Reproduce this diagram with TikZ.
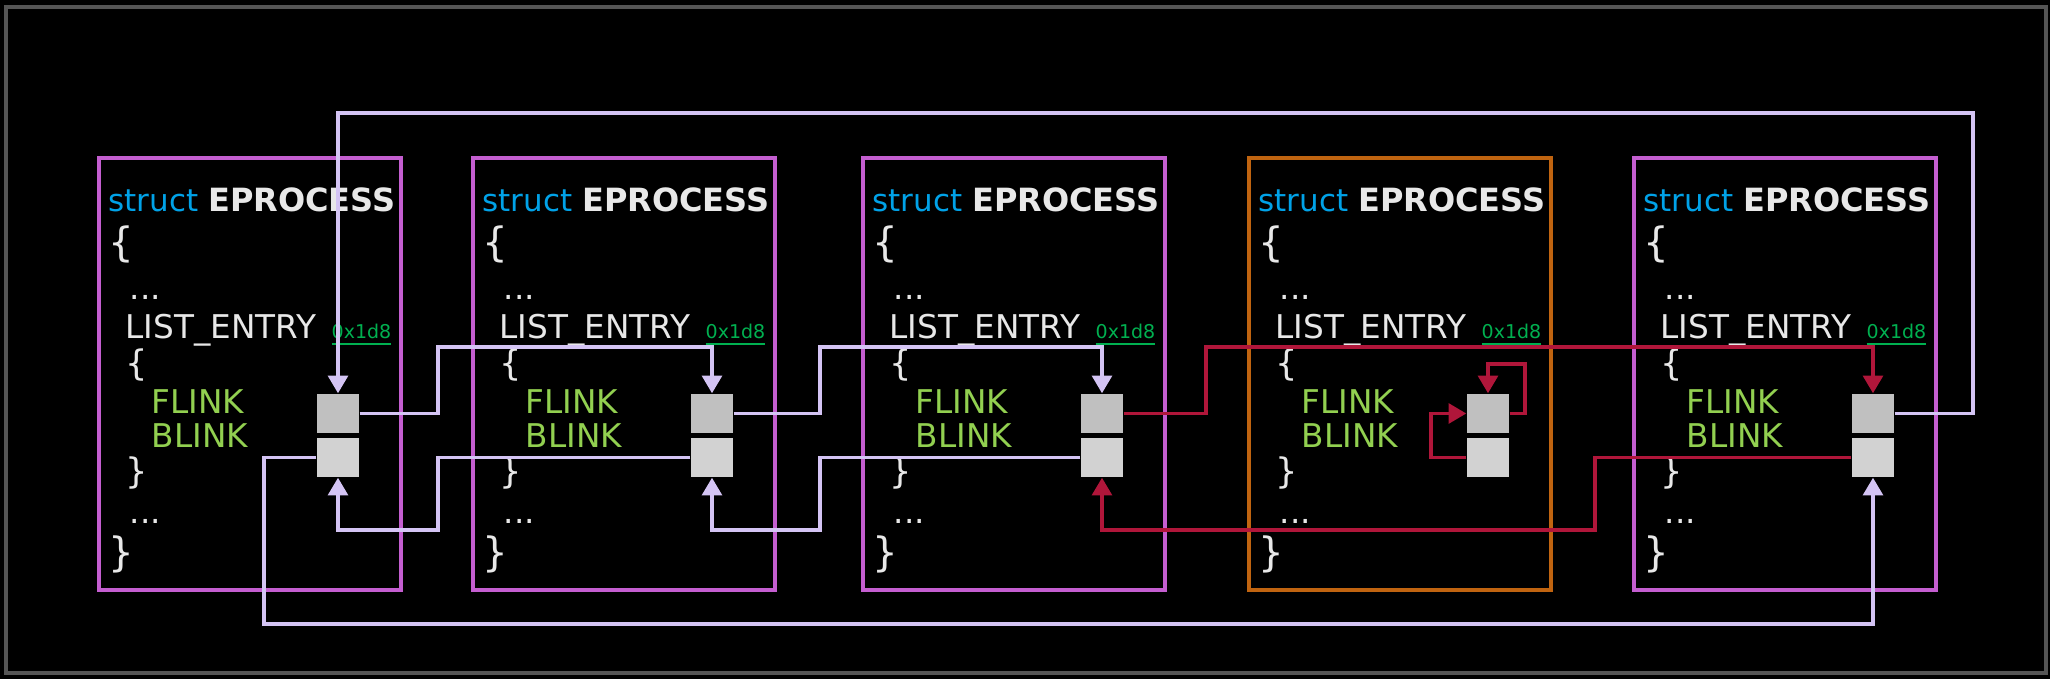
\documentclass[tikz,border=0pt]{standalone}
\usepackage{fontspec}
\setmainfont{DejaVu Sans}
\usepackage{tikz}
\usetikzlibrary{arrows.meta,calc}
\usepackage{xcolor}
\definecolor{frameg}{RGB}{85,85,85}
\definecolor{procpink}{RGB}{196,94,208}
\definecolor{procorange}{RGB}{192,100,16}
\definecolor{kwblue}{RGB}{0,162,232}
\definecolor{codewhite}{RGB}{232,232,232}
\definecolor{offgreen}{RGB}{0,176,80}
\definecolor{fieldgreen}{RGB}{146,208,80}
\definecolor{celltop}{RGB}{192,192,192}
\definecolor{cellbot}{RGB}{210,210,210}
\definecolor{lav}{RGB}{212,196,244}
\definecolor{unlinkred}{RGB}{176,22,58}
\tikzset{
  procbox/.style={draw=#1,line width=1pt,minimum width=3.02cm,minimum height=4.32cm,inner sep=0pt},
  cell/.style={fill=#1,minimum width=0.42cm,minimum height=0.39cm,inner sep=0pt},
  code/.style={anchor=base west,inner sep=0pt,font=\fontsize{9.3}{11}\selectfont,text=codewhite},
}

\begin{document}
\begin{tikzpicture}[x=0.01cm,y=-0.01cm,
    link/.style={-{Triangle[length=5pt,width=5.6pt]},line width=1pt,draw=#1},
  ]
    %────────── CANVAS ─────────────
    \fill[black] (0,0) rectangle (2050,679);
    \useasboundingbox (0,0) rectangle (2050,679);
    \draw[frameg,line width=1pt] (6,7) rectangle (2046,673);

    %────────── PROCESSES ──────────
    \foreach \i/\xx/\col in {1/99/procpink,2/473/procpink,3/863/procpink,4/1249/procorange,5/1634/procpink}{
      \node[procbox=\col] (p\i) at (\xx+151,374) {};
      \node[code,font=\fontsize{8.8}{10}\selectfont] (hd\i) at (\xx+9,212) {\textcolor{kwblue}{struct} {\fontsize{9.1}{11}\selectfont\bfseries EPROCESS}};
      \node[code,font=\fontsize{11.5}{13}\selectfont] (ob\i) at (\xx+9,257) {\{};
      \node[code] (da\i) at (\xx+30,300) {...};
      \node[code] (le\i) at (\xx+26,339) {LIST\_ENTRY};
      \node[code,font=\fontsize{5.4}{6}\selectfont,text=offgreen] (off\i) at (\xx+232,339) {\underline{0x1d8}};
      \node[code,font=\fontsize{10}{12}\selectfont] (ib\i) at (\xx+26,376) {\{};
      \node[code,text=fieldgreen] (fl\i) at (\xx+52,413) {FLINK};
      \node[code,text=fieldgreen] (bl\i) at (\xx+52,448) {BLINK};
      \node[code,font=\fontsize{10}{12}\selectfont] (ie\i) at (\xx+26,484) {\}};
      \node[code] (db\i) at (\xx+30,524) {...};
      \node[code,font=\fontsize{11.5}{13}\selectfont] (oe\i) at (\xx+9,567) {\}};
      \node[cell=celltop] (f\i) at (\xx+239,413.5) {};
      \node[cell=cellbot] (b\i) at (\xx+239,457.5) {};
    }

    %────────── FLINK CHAIN ────────
    \coordinate (top) at (1973,113);
    \coordinate (j1) at (438,347);
    \coordinate (j2) at (820,347);
    \coordinate (j3) at (1206,347);
    \coordinate (j4) at (1525,364);
    \draw[link=lav] (f1.east) -| (j1) -| (f2.north);
    \draw[link=lav] (f2.east) -| (j2) -| (f3.north);
    \draw[link=unlinkred] (f3.east) -| (j3) -| (f5.north);
    \draw[link=unlinkred] (f4.east) -| (j4) -| (f4.north);
    \draw[link=lav] (f5.east) -| (top) -| (f1.north);

    %────────── BLINK CHAIN ────────
    \coordinate (k1) at (264,624);
    \coordinate (k2) at (438,530);
    \coordinate (k3) at (820,530);
    \coordinate (k4) at (1431,413.5);
    \coordinate (k5) at (1595,530);
    \draw[link=lav] (b1.west) -| (k1) -| (b5.south);
    \draw[link=lav] (b2.west) -| (k2) -| (b1.south);
    \draw[link=lav] (b3.west) -| (k3) -| (b2.south);
    \draw[link=unlinkred] (b4.west) -| (k4) -- (f4.west);
    \draw[link=unlinkred] (b5.west) -| (k5) -| (b3.south);
  \end{tikzpicture}
\end{document}
